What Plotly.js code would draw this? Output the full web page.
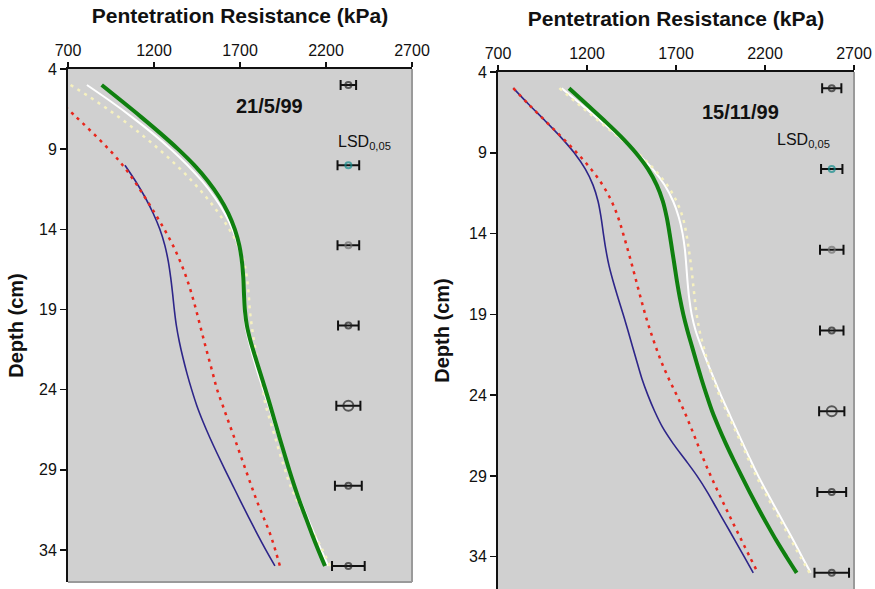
<!DOCTYPE html>
<html>
<head>
<meta charset="utf-8">
<script src="https://cdn.plot.ly/plotly-3.0.1.min.js"></script>
<style>html,body{margin:0;padding:0;background:#fff;}#chart{width:875px;height:589px;}</style>
</head>
<body>
<div id="chart"></div>
<script>
// ---------- DATA ----------
const depth = [5,6,7,8,9,10,11,12,13,14,15,16,17,18,19,20,21,22,23,24,25,26,27,28,29,30,31,32,33,34,35];
const depthRedL = [6,7,8,9,10,11,12,13,14,15,16,17,18,19,20,21,22,23,24,25,26,27,28,29,30,31,32,33,34,35];
const depthNavyL = [10,11,12,13,14,15,16,17,18,19,20,21,22,23,24,25,26,27,28,29,30,31,32,33,34,35];

// Panel 1: 21/5/99
const greenL  = [896,1012,1126,1236,1340,1434,1514,1580,1632,1670,1696,1711,1719,1723,1728,1740,1762,1790,1819,1848,1876,1903,1930,1958,1986,2016,2048,2083,2118,2155,2194];
const whiteL  = [810,945,1072,1190,1298,1395,1480,1552,1611,1656,1688,1706,1714,1718,1722,1732,1752,1777,1805,1835,1866,1895,1925,1955,1985,2018,2055,2093,2132,2172,2213];
const yellowL = [715,862,995,1117,1228,1330,1422,1504,1576,1638,1688,1722,1740,1750,1757,1768,1782,1798,1815,1832,1850,1877,1905,1932,1962,1993,2035,2080,2130,2180,2223];
const redL    = [650,748,845,937,1018,1086,1147,1205,1260,1310,1352,1388,1418,1444,1468,1492,1517,1542,1567,1600,1633,1667,1700,1733,1766,1800,1838,1875,1905,1932];
const navyL   = [1031,1093,1148,1195,1234,1263,1283,1297,1308,1318,1330,1347,1368,1392,1419,1449,1485,1525,1568,1613,1659,1705,1752,1800,1850,1903];

// Panel 2: 15/11/99
const greenR  = [1099,1198,1297,1391,1474,1542,1592,1626,1648,1664,1678,1692,1706,1722,1741,1764,1790,1816,1843,1872,1903,1940,1980,2023,2068,2114,2162,2212,2264,2320,2378];
const whiteR  = [1058,1166,1274,1380,1480,1568,1636,1684,1716,1737,1750,1758,1765,1774,1788,1810,1842,1877,1914,1952,1993,2034,2076,2118,2162,2210,2260,2310,2360,2408,2457];
const yellowR = [1045,1152,1262,1374,1482,1576,1650,1703,1738,1758,1772,1785,1795,1805,1816,1832,1855,1880,1908,1943,1983,2025,2067,2108,2150,2198,2248,2298,2348,2398,2450];
const redR    = [786,872,963,1055,1143,1222,1288,1338,1375,1403,1429,1454,1478,1502,1527,1555,1586,1620,1660,1704,1746,1784,1820,1856,1895,1937,1980,2024,2069,2114,2160];
const navyR   = [786,872,963,1050,1128,1190,1234,1262,1279,1292,1306,1324,1348,1375,1403,1430,1456,1482,1509,1542,1580,1625,1684,1752,1818,1876,1928,1980,2032,2083,2134];

// LSD 0.05 markers
const lsdDepth = [5,10,15,20,25,30,35];
const lsdCenterL = [2330,2330,2330,2330,2330,2330,2330];
const lsdHalfL = [45,63,63,60,70,78,95];
const lsdCenterR = [2575,2575,2575,2575,2575,2575,2575];
const lsdHalfR = [54,60,66,66,71,81,97];
const lsdColors = ['#222222','#138c8c','#707070','#222222','#222222','#222222','#222222'];
const lsdSizes = [6,6,6,6,10,6,6];

const xTicks = [700,1200,1700,2200,2700];
const yTicks = [4,9,14,19,24,29,34];
const dateL = '21/5/99';
const dateR = '15/11/99';
const xTitle = 'Pentetration Resistance (kPa)';
const yTitle = 'Depth (cm)';

// ---------- STYLES ----------
const FONT = 'Liberation Sans, Arial, Helvetica, sans-serif';
const C = {green:'#0f800f', white:'#ffffff', yellow:'#f6f1bf', red:'#e8261c', navy:'#2d2589'};

function curve(x, y, ax, color, width, dash){
  return {x:x, y:y, xaxis:ax[0], yaxis:ax[1], mode:'lines', type:'scatter', hoverinfo:'skip',
    line:{color:color, width:width, dash:dash||'solid', shape:'spline', smoothing:1}, showlegend:false};
}
function lsd(cx, half, ax){
  return {x:cx, y:lsdDepth, xaxis:ax[0], yaxis:ax[1], mode:'markers', type:'scatter', showlegend:false, hoverinfo:'skip',
    marker:{symbol:'circle-open', size:lsdSizes, color:lsdColors, line:{width:2}},
    error_x:{type:'data', array:half, visible:true, color:'#111', thickness:2, width:5}};
}
const A1 = ['x','y'], A2 = ['x2','y2'];
const data = [
  curve(navyL, depthNavyL, A1, C.navy, 1.6),
  curve(redL, depthRedL, A1, C.red, 2.5, '3px,5px'),
  curve(whiteL, depth, A1, C.white, 2),
  curve(yellowL, depth, A1, C.yellow, 2.5, '3px,5px'),
  curve(greenL, depth, A1, C.green, 4),
  lsd(lsdCenterL, lsdHalfL, A1),
  curve(navyR, depth, A2, C.navy, 1.6),
  curve(redR, depth, A2, C.red, 2.5, '3px,5px'),
  curve(whiteR, depth, A2, C.white, 2),
  curve(yellowR, depth, A2, C.yellow, 2.5, '3px,5px'),
  curve(greenR, depth, A2, C.green, 4),
  lsd(lsdCenterR, lsdHalfR, A2)
];

function xax(domain, anchor){
  return {domain:domain, anchor:anchor, side:'top', range:[700,2700], tickvals:xTicks, ticktext:xTicks.map(String),
    ticks:'outside', ticklen:5, tickwidth:1.5, tickcolor:'#111', showline:true, linecolor:'#111', linewidth:2,
    showgrid:false, zeroline:false, tickfont:{size:16, color:'#111', family:FONT},
    title:{text:'<b>'+xTitle+'</b>', font:{size:21, color:'#111', family:FONT}, standoff:12}};
}
function yax(domain, anchor, standoff){
  return {domain:domain, anchor:anchor, range:[36,4], tickvals:yTicks, ticktext:yTicks.map(String),
    ticks:'outside', ticklen:6, tickwidth:1.5, tickcolor:'#111', showline:true, linecolor:'#111', linewidth:2,
    showgrid:false, zeroline:false, tickfont:{size:16, color:'#111', family:FONT},
    title:{text:'<b>'+yTitle+'</b>', font:{size:20, color:'#111', family:FONT}, standoff:standoff}};
}
const frame = '#9a9a9a';
const ann = (xr, yr, x, y, text, size) => ({xref:xr, yref:yr, x:x, y:y, xanchor:'center', yanchor:'middle', text:text, showarrow:false, font:{size:size, color:'#111', family:FONT}});
const layout = {
  width:875, height:589, margin:{l:0,r:0,t:0,b:0}, paper_bgcolor:'#ffffff', plot_bgcolor:'#d0d0d0',
  font:{family:FONT, color:'#111'}, showlegend:false, hovermode:false,
  xaxis: xax([68/875, 412/875], 'y'),
  yaxis: yax([1-582/589, 1-69/589], 'x', 10),
  xaxis2: xax([498/875, 854/875], 'y2'),
  yaxis2: yax([0, 1-72/589], 'x2', 14),
  shapes:[
    {type:'line', xref:'x domain', yref:'y domain', x0:1, x1:1, y0:0, y1:1, line:{color:frame, width:2}},
    {type:'line', xref:'x domain', yref:'y domain', x0:0, x1:1, y0:0, y1:0, line:{color:frame, width:2}},
    {type:'line', xref:'x2 domain', yref:'y2 domain', x0:1, x1:1, y0:0, y1:1, line:{color:frame, width:2}}
  ],
  annotations:[
    ann('x domain','y domain', 0.587, 0.928, '<b>'+dateL+'</b>', 20),
    ann('x domain','y domain', 0.862, 0.856, 'LSD<sub>0,05</sub>', 16),
    ann('x2 domain','y2 domain', 0.680, 0.923, '<b>'+dateR+'</b>', 20),
    ann('x2 domain','y2 domain', 0.857, 0.868, 'LSD<sub>0,05</sub>', 16)
  ]
};
Plotly.newPlot('chart', data, layout, {staticPlot:true, displayModeBar:false});
</script>
</body>
</html>
